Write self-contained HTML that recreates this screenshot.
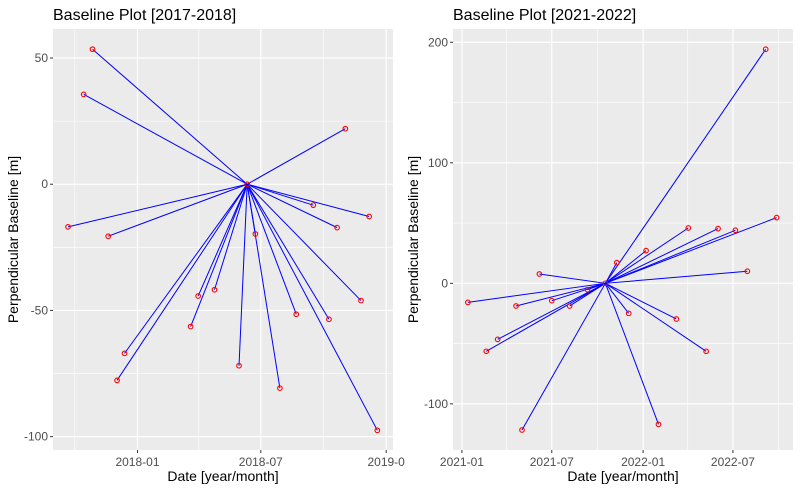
<!DOCTYPE html>
<html><head><meta charset="utf-8"><style>
html,body{margin:0;padding:0;background:#fff;}
svg{display:block;font-family:"Liberation Sans",Arial,sans-serif;}
</style></head><body>
<svg id="chart" width="800" height="491" viewBox="0 0 800 491"></svg>
<script>
// ---- Panel 1 data (2017-2018) ----
const leftMasterDate = "2018-06-11";
const leftDates = ["2017-10-27","2017-10-14","2017-09-21","2017-11-19","2017-12-13","2017-12-02","2018-03-31","2018-04-24","2018-03-20","2018-05-30","2018-06-23","2018-07-29","2018-08-22","2018-09-16","2018-10-09","2018-10-21","2018-11-02","2018-11-25","2018-12-07","2018-12-19"];
const leftBaselines = [53.5,35.6,-16.9,-20.6,-67,-77.7,-44.3,-41.8,-56.4,-71.9,-19.7,-80.8,-51.5,-8.3,-53.5,-17.2,22.0,-46.1,-12.8,-97.5];
const leftYTicks = [50,0,-50,-100];
const leftYMinor = [25,-25,-75];
const leftXTicks = ["2018-01-01","2018-07-01","2019-01-01"];
const leftXTickLabels = ["2018-01","2018-07","2019-0"];
const leftXMinor = ["2017-10-01","2018-04-01","2018-10-01"];
// ---- Panel 2 data (2021-2022) ----
const rightMasterDate = "2021-10-17";
const rightDates = ["2022-09-05","2022-09-27","2022-04-02","2022-06-01","2022-07-06","2022-01-07","2021-11-09","2022-07-30","2021-06-06","2021-01-13","2021-04-20","2021-07-01","2021-08-06","2021-09-11","2021-03-14","2021-02-19","2021-05-02","2021-12-03","2022-02-01","2022-03-09","2022-05-08"];
const rightBaselines = [194.2,54.5,45.9,45.4,44.0,27.1,17.2,10.0,7.7,-15.8,-18.8,-14.4,-18.8,-5.3,-46.5,-56.4,-121.7,-24.9,-117.0,-29.6,-56.4];
const rightYTicks = [200,100,0,-100];
const rightYMinor = [150,50,-50];
const rightXTicks = ["2021-01-01","2021-07-01","2022-01-01","2022-07-01"];
const rightXTickLabels = ["2021-01","2021-07","2022-01","2022-07"];
const rightXMinor = ["2021-04-01","2021-10-01","2022-04-01","2022-10-01"];

const NS="http://www.w3.org/2000/svg";
const svg=document.getElementById('chart');
function mk(tag,attrs,parent){const e=document.createElementNS(NS,tag);for(const k in attrs)e.setAttribute(k,attrs[k]);(parent||svg).appendChild(e);return e;}
function day(s){return Date.parse(s+"T00:00:00Z")/86400000;}

function panel(cfg){
  const g=mk('g',{});
  
  
  const {x0,x1,y0,y1}=cfg.box;
  const xs=d=>x0+(day(d)-day(cfg.xDom[0]))/(day(cfg.xDom[1])-day(cfg.xDom[0]))*(x1-x0);
  const ys=v=>y0+(cfg.yDom[1]-v)/(cfg.yDom[1]-cfg.yDom[0])*(y1-y0);
  const bg=mk('rect',{x:x0,y:y0,width:x1-x0,height:y1-y0,fill:'#ebebeb'},g);
  
  
  cfg.yMinor.forEach(v=>mk('line',{x1:x0,x2:x1,y1:ys(v),y2:ys(v),stroke:'#fff','stroke-width':0.6},g));
  cfg.xMinor.forEach(d=>mk('line',{x1:xs(d),x2:xs(d),y1:y0,y2:y1,stroke:'#fff','stroke-width':0.6},g));
  cfg.yTicks.forEach(v=>{
    mk('line',{x1:x0,x2:x1,y1:ys(v),y2:ys(v),stroke:'#fff','stroke-width':1.2},g);
    mk('line',{x1:x0-3,x2:x0,y1:ys(v),y2:ys(v),stroke:'#333','stroke-width':1},g);
    const t=mk('text',{x:x0-5,y:ys(v)+4,'text-anchor':'end','font-size':12,fill:'#4d4d4d'},g);
    t.textContent=v;
    
    
  });
  cfg.xTicks.forEach((d,i)=>{
    mk('line',{x1:xs(d),x2:xs(d),y1:y0,y2:y1,stroke:'#fff','stroke-width':1.2},g);
    mk('line',{x1:xs(d),x2:xs(d),y1:y1,y2:y1+3,stroke:'#333','stroke-width':1},g);
    const t=mk('text',{x:xs(d),y:y1+16,'text-anchor':'middle','font-size':12,fill:'#4d4d4d'},g);
    t.textContent=cfg.xLabels[i];
    
    
  });
  const cx=xs(cfg.master), cy=ys(0);
  cfg.dates.forEach((d,i)=>{
    const l=mk('line',{x1:cx,y1:cy,x2:xs(d),y2:ys(cfg.vals[i]),stroke:'#0000ff','stroke-width':1},g);
    
    
  });
  cfg.dates.forEach((d,i)=>{
    const c=mk('circle',{cx:xs(d),cy:ys(cfg.vals[i]),r:2.3,fill:'none',stroke:'#ff0000','stroke-width':1.1},g);
    
    
  });
  const m=mk('circle',{cx:cx,cy:cy,r:2.3,fill:'none',stroke:'#ff0000','stroke-width':1.1},g);
  
  
  const ti=mk('text',{x:x0,y:20,'font-size':16,fill:'#000'},g);
  ti.textContent=cfg.title;
  
  
  const xt=mk('text',{x:(x0+x1)/2,y:481,'text-anchor':'middle','font-size':14,fill:'#000'},g);
  xt.textContent='Date [year/month]';
  
  
  const yx=cfg.box.x0-35, ym=(y0+y1)/2;
  const yt=mk('text',{x:yx,y:ym,'text-anchor':'middle','font-size':14,fill:'#000',transform:`rotate(-90 ${yx} ${ym})`},g);
  yt.textContent='Perpendicular Baseline [m]';
  
  
}
panel({name:'panel-2017-2018',title:'Baseline Plot [2017-2018]',box:{x0:53,x1:393,y0:29,y1:450},
  xDom:['2017-08-30','2019-01-11'],yDom:[-105.3,61.5],master:leftMasterDate,dates:leftDates,vals:leftBaselines,
  yTicks:leftYTicks,yMinor:leftYMinor,xTicks:leftXTicks,xLabels:leftXTickLabels,xMinor:leftXMinor});
panel({name:'panel-2021-2022',title:'Baseline Plot [2021-2022]',box:{x0:453,x1:793,y0:29,y1:450},
  xDom:['2020-12-14','2022-10-30'],yDom:[-138.3,211],master:rightMasterDate,dates:rightDates,vals:rightBaselines,
  yTicks:rightYTicks,yMinor:rightYMinor,xTicks:rightXTicks,xLabels:rightXTickLabels,xMinor:rightXMinor});
</script>
</body></html>
